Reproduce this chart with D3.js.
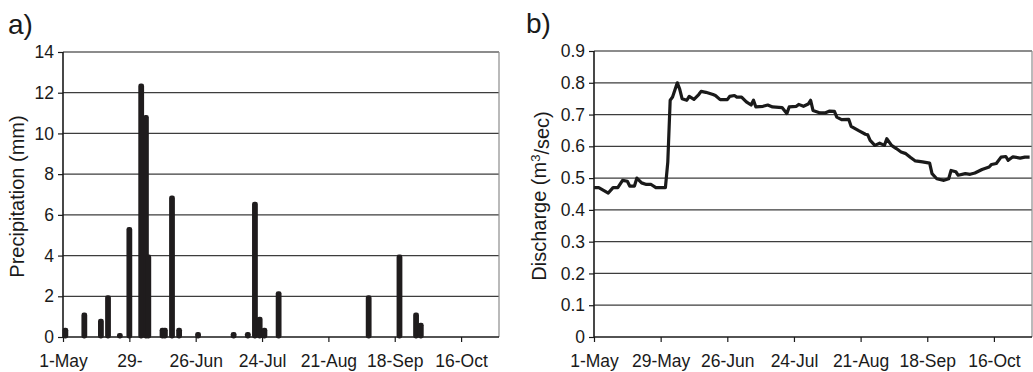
<!DOCTYPE html>
<html lang="en">
<head>
<meta charset="UTF-8">
<title>Precipitation and discharge</title>
<script src="https://d3js.org/d3.v7.min.js"></script>
<style>
  *{padding:0; margin:0; box-sizing:border-box;}
  body{background:#fff;}
  svg{display:block;}
  text{font-family:"Liberation Sans", Arial, Helvetica, sans-serif; fill:#1a1a1a;}
  .tick-label{font-size:17.5px;}
  .axis-title{font-size:20px;}
  .panel-label{font-size:28px;}
  .grid{stroke:#3d3d3d; stroke-width:1.2;}
</style>
</head>
<body>
<script>
// season starts 1 May, days counted from there
const seasonStart = new Date(2006, 4, 1);
const seasonEnd = new Date(2006, 10, 1);

// x axis ticks (every 28 days)
const tickDays = [0, 28, 56, 84, 112, 140, 168];
const tickLabelsA = ["1-May", "29-", "26-Jun", "24-Jul", "21-Aug", "18-Sep", "16-Oct"];
const tickLabelsB = ["1-May", "29-May", "26-Jun", "24-Jul", "21-Aug", "18-Sep", "16-Oct"];

// y ticks
const precipTicks = [0, 2, 4, 6, 8, 10, 12, 14];
const dischargeTicks = [0, 0.1, 0.2, 0.3, 0.4, 0.5, 0.6, 0.7, 0.8, 0.9];

// a) daily precipitation (mm)
const precipDay = [1, 9, 16, 19, 24, 28, 33, 35, 36, 42, 43, 46, 49, 57, 72, 78, 81, 83, 85, 91, 129, 142, 149, 151];
const precipMm  = [0.45, 1.2, 0.9, 2.05, 0.2, 5.4, 12.45, 10.9, 4.05, 0.45, 0.45, 6.95, 0.45, 0.25, 0.25, 0.25, 6.65, 1.0, 0.45, 2.25, 2.05, 4.05, 1.2, 0.7];

// b) discharge (m3/sec)
const qDay = [0, 2, 6, 8, 10, 12, 14, 15, 17, 18, 20, 22, 24, 26, 30, 31, 32, 33, 35, 36, 37, 39, 40, 42, 44, 45, 47, 50, 51, 53,
  56, 57, 59, 60, 62, 64, 66, 67, 68, 71, 73, 75, 79, 81, 82, 85, 86, 88, 90, 91, 92, 95, 97, 99, 101, 102, 104, 107, 108, 111,
  114, 115, 116, 118, 120, 122, 123, 125, 127, 129, 131, 133, 135, 138, 141, 142, 144, 147, 149, 150, 152, 153, 156, 158, 160, 163, 166, 167, 169, 171,
  173, 174, 176, 179, 181, 183];
const qValue = [0.47, 0.47, 0.453, 0.47, 0.47, 0.493, 0.49, 0.475, 0.475, 0.50, 0.485, 0.48, 0.48, 0.47, 0.47, 0.55, 0.745, 0.755, 0.80, 0.78, 0.75, 0.745, 0.757, 0.748, 0.763, 0.773, 0.77, 0.763, 0.76, 0.747,
  0.747, 0.757, 0.76, 0.755, 0.755, 0.74, 0.73, 0.745, 0.724, 0.726, 0.73, 0.724, 0.722, 0.703, 0.724, 0.726, 0.732, 0.726, 0.733, 0.745, 0.713, 0.705, 0.705, 0.711, 0.71, 0.692, 0.684, 0.685, 0.663, 0.65,
  0.638, 0.636, 0.619, 0.603, 0.61, 0.603, 0.624, 0.603, 0.593, 0.582, 0.577, 0.565, 0.554, 0.551, 0.547, 0.514, 0.498, 0.493, 0.498, 0.524, 0.52, 0.509, 0.514, 0.512, 0.516, 0.527, 0.535, 0.543, 0.546, 0.566,
  0.568, 0.556, 0.567, 0.563, 0.566, 0.566];

const dayDate = d => d3.timeDay.offset(seasonStart, d);

let svg = d3.select('body').append('svg')
  .attr('width', 1033).attr('height', 372);

//draws the frame, grid and axes of one panel, returns the scales
function panel(opts){
  let x = d3.scaleTime().domain([seasonStart, seasonEnd]).range([opts.left, opts.right]);
  let y = d3.scaleLinear().domain(opts.yDomain).range([opts.bottom, opts.top]);
  let g = svg.append('g');

  // horizontal gridlines (not at zero)
  g.append('g').selectAll('line')
    .data(opts.yTicks.filter(v => v > 0))
    .enter().append('line')
    .attr('class', 'grid')
    .attr('x1', opts.left).attr('x2', opts.right)
    .attr('y1', d => y(d)).attr('y2', d => y(d))
    .style('stroke', (d, i, n) => i === n.length - 1 ? '#1a1a1a' : null);

  // right border
  g.append('line')
    .attr('x1', opts.right).attr('x2', opts.right)
    .attr('y1', opts.top).attr('y2', opts.bottom)
    .attr('stroke', '#8c8c8c').attr('stroke-width', 1.2);

  // y axis
  let yAxis = d3.axisLeft(y).tickValues(opts.yTicks).tickSize(5).tickPadding(4)
    .tickFormat(opts.yFormat);
  let ya = g.append('g').attr('transform', `translate(${opts.left},0)`).call(yAxis);

  // x axis
  let xAxis = d3.axisBottom(x).tickValues(tickDays.map(dayDate)).tickSize(5).tickPadding(13)
    .tickFormat((d, i) => opts.xLabels[i]);
  let xa = g.append('g').attr('transform', `translate(0,${opts.bottom})`).call(xAxis);

  [ya, xa].forEach(a => {
    a.select('.domain').attr('stroke', '#1a1a1a').attr('stroke-width', 1.6);
    a.selectAll('.tick line').attr('stroke', '#1a1a1a').attr('stroke-width', 1.2);
    a.selectAll('.tick text').attr('class', 'tick-label').style('font-size', null).attr('fill', '#1a1a1a');
    a.attr('font-size', null).attr('font-family', null);
  });
  // y axis domain shouldn't draw outer ticks
  ya.select('.domain').attr('d', `M0,${opts.top}V${opts.bottom}`);
  xa.select('.domain').attr('d', `M${opts.left},0H${opts.right}`);

  // axis title
  g.append('text')
    .attr('class', 'axis-title')
    .attr('transform', `translate(${opts.titleX},${(opts.top + opts.bottom) / 2 + 2}) rotate(-90)`)
    .attr('text-anchor', 'middle')
    .call(opts.title);

  // panel label
  g.append('text').attr('class', 'panel-label')
    .attr('x', opts.labelX).attr('y', opts.labelY)
    .text(opts.label);

  return {x, y, g};
}

// a) precipitation
let a = panel({
  left: 63, right: 499, top: 52, bottom: 337,
  yDomain: [0, 14], yTicks: precipTicks, yFormat: d3.format('d'),
  xLabels: tickLabelsA,
  titleX: 24, title: t => t.text('Precipitation (mm)'),
  label: 'a)', labelX: 8, labelY: 34
});

const barW = 5.8;
a.g.append('g').selectAll('rect')
  .data(precipDay.map((d, i) => ({day: d, v: precipMm[i]})))
  .enter().append('rect')
  .attr('x', d => a.x(dayDate(d.day)) - barW / 2)
  .attr('y', d => a.y(d.v))
  .attr('width', barW)
  .attr('height', d => a.y(0) - a.y(d.v) + 1.5)
  .attr('rx', 2.4).attr('ry', 2.4)
  .attr('fill', '#1f1c1d');

// b) discharge
let b = panel({
  left: 594, right: 1032, top: 51, bottom: 337,
  yDomain: [0, 0.9], yTicks: dischargeTicks, yFormat: d => d === 0 ? '0' : d3.format('.1f')(d),
  xLabels: tickLabelsB,
  titleX: 546,
  title: t => {
    t.append('tspan').text('Discharge (m');
    t.append('tspan').attr('dy', '-0.45em').style('font-size', '13px').text('3');
    t.append('tspan').attr('dy', '0.45em').text('/sec)');
  },
  label: 'b)', labelX: 526, labelY: 33
});

let line = d3.line()
  .x((d, i) => b.x(dayDate(qDay[i])))
  .y(d => b.y(d));

b.g.append('path')
  .datum(qValue)
  .attr('d', line)
  .attr('fill', 'none')
  .attr('stroke', '#1a1a1a')
  .attr('stroke-width', 3.2)
  .attr('stroke-linejoin', 'round');
</script>
</body>
</html>
